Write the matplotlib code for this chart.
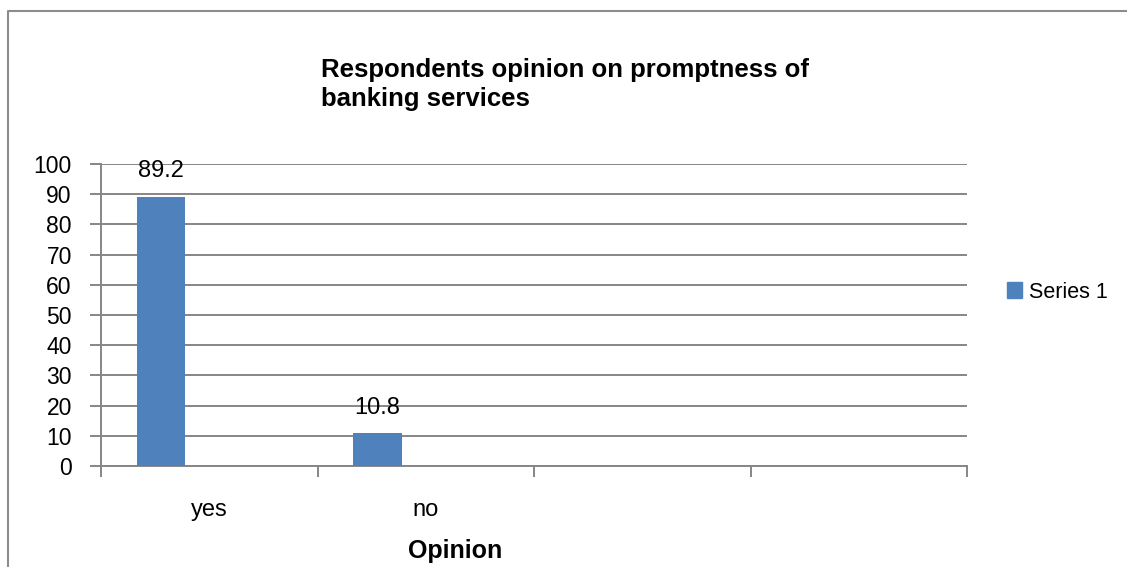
import matplotlib.pyplot as plt
from matplotlib.lines import Line2D
from matplotlib.patches import Patch
import numpy as np

categories = ['yes', 'no', '', '']
values = [89.2, 10.8]
yticks = [0, 10, 20, 30, 40, 50, 60, 70, 80, 90, 100]
series_name = 'Series 1'
title = 'Respondents opinion on promptness of\nbanking services'
xlabel = 'Opinion'

BAR_COLOR = '#4F81BD'
GRID_COLOR = '#868686'

plt.rcParams['font.family'] = ['Liberation Sans', 'DejaVu Sans']

W, H = 1127, 567
fig = plt.figure(figsize=(W / 100, H / 100), dpi=100)
ax = fig.add_axes([101 / W, 1 - 466 / H, 866 / W, 302 / H])

# bars sit in the left part of each category slot
n = len(categories)
x = np.arange(len(values))
bars = ax.bar(x - 0.223, values, width=0.222, color=BAR_COLOR, zorder=3)
for rect, v in zip(bars, values):
    ax.annotate(f'{v}', (rect.get_x() + rect.get_width() / 2, v),
                xytext=(0, 14), textcoords='offset points',
                ha='center', va='baseline', fontsize=17)

ax.set_xlim(-0.5, n - 0.5)
ax.set_ylim(0, 100)
ax.set_yticks(yticks)
ax.yaxis.grid(True, color=GRID_COLOR, lw=1.4, zorder=0)

# category boundaries get the tick marks, names go in the middle
ax.set_xticks(np.arange(n + 1) - 0.5)
ax.set_xticklabels([])
ax.set_xticks(np.arange(n), minor=True)
ax.set_xticklabels(categories, minor=True, fontsize=17)
ax.tick_params(axis='x', which='major', length=8, width=1.4, color=GRID_COLOR)
ax.tick_params(axis='x', which='minor', length=0, pad=24)
ax.tick_params(axis='y', length=8, width=1.4, color=GRID_COLOR, pad=13, labelsize=16.5)

for side in ['top', 'right']:
    ax.spines[side].set_visible(False)
for side in ['left', 'bottom']:
    ax.spines[side].set_color(GRID_COLOR)
    ax.spines[side].set_linewidth(1.4)

lab = ax.set_xlabel(xlabel, fontsize=18, fontweight='bold', va='baseline')
ax.xaxis.set_label_coords(0.409, -0.305)

fig.text(321 / W, 1 - 58 / H, title, fontsize=18.5, fontweight='bold',
         ha='left', va='top', linespacing=1.25)

ax.legend([Patch(color=BAR_COLOR)], [series_name], loc='center left',
          bbox_to_anchor=(1007 / W, 1 - 292 / H), bbox_transform=fig.transFigure,
          frameon=False, fontsize=15.5, borderpad=0, borderaxespad=0,
          handlelength=0.7, handleheight=0.7, handletextpad=0.3)

# chart area border (top and left edges only show)
fig.add_artist(Line2D([8 / W, 8 / W, 1], [0, 1 - 11 / H, 1 - 11 / H],
                      color='#8c8c8c', lw=1.5))

fig.savefig('out.png', dpi=100)
